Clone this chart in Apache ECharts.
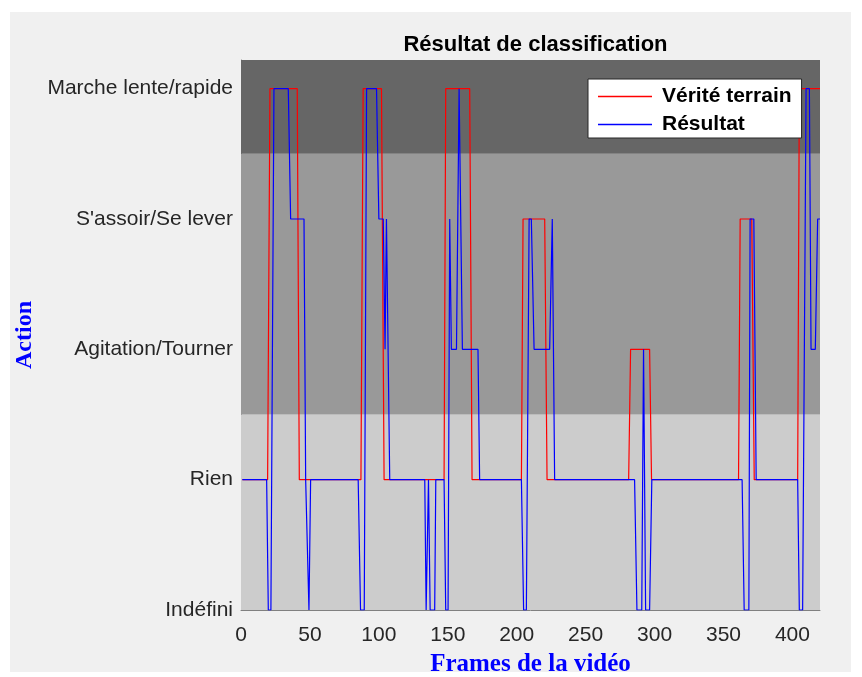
<!DOCTYPE html>
<html>
<head>
<meta charset="utf-8">
<script src="https://cdn.jsdelivr.net/npm/echarts@6/dist/echarts.min.js"></script>
<style>
  html, body { margin: 0; padding: 0; background: #ffffff; }
  #chart { width: 862px; height: 677px; }
</style>
</head>
<body>
<div id="chart"></div>
<script>
// Class labels (y levels 0..4)
var classLabels = ['Indéfini', 'Rien', 'Agitation/Tourner', "S'assoir/Se lever", 'Marche lente/rapide'];

// Ground truth ("Vérité terrain") breakpoints: frame, class index
var truthX = [1, 19.3, 21, 40.8, 42.3, 87, 88.6, 101.9, 103.8, 147.3, 148.5, 165.9, 167.6,
  203.4, 204.6, 220.3, 222, 281.2, 282.6, 296.4, 297.8, 360.9, 362.1, 370.5, 372.3, 403.8, 405, 420];
var truthY = [1, 1, 4, 4, 1, 1, 4, 4, 1, 1, 4, 4, 1,
  1, 3, 3, 1, 1, 2, 2, 1, 1, 3, 3, 1, 1, 4, 4];

// Classifier output ("Résultat") breakpoints: frame, class index
var resultX = [1, 18.6, 19.8, 21.7, 23.9, 34.3, 36, 45.7, 46.9, 48, 49.3, 50.5,
  85, 86.7, 89.4, 91.1, 98.3, 100, 103.2, 104.5, 105.5, 106.3, 107.9,
  133.3, 134.3, 135, 136, 137.2, 140.5, 141.3, 147.3, 148.5, 150.2, 151.4, 152.6, 156.3, 158.2, 159.2, 160.6, 171.9, 173.1,
  203.4, 205, 207, 209, 210.6, 212.6, 223.9, 225.8, 227.5,
  285.5, 287.2, 290.7, 292, 293.5, 296.4, 298,
  363.5, 365, 368.4, 369.3, 372, 373.7,
  403.8, 405, 407.4, 409.9, 412.3, 413.5, 416.6, 418.3, 420];
var resultY = [1, 1, 0, 0, 4, 4, 3, 3, 1, 1, 0, 1,
  1, 0, 0, 4, 4, 3, 3, 2, 3, 3, 1,
  1, 0, 0, 1, 0, 0, 1, 1, 0, 0, 3, 2, 2, 4, 4, 2, 2, 1,
  1, 0, 0, 3, 3, 2, 2, 3, 1,
  1, 0, 0, 2, 0, 0, 1,
  1, 0, 0, 3, 3, 1,
  1, 0, 0, 4, 4, 2, 2, 3, 3];

// Background band limits (class-level ranges)
var bandLimits = [[0, 1.5], [1.5, 3.5], [3.5, 4.22]];
var bandColors = ['#cccccc', '#999999', '#666666'];

var xTicks = [0, 50, 100, 150, 200, 250, 300, 350, 400];

function zip(xs, ys) { return xs.map(function (x, i) { return [x, ys[i]]; }); }

var chart = echarts.init(document.getElementById('chart'), null, { renderer: 'canvas' });
var sansFont = "'Liberation Sans', Arial, Helvetica, sans-serif";
var serifFont = "'Liberation Serif', 'Times New Roman', serif";

chart.setOption({
  backgroundColor: '#ffffff',
  animation: false,
  graphic: [{
    type: 'rect', z: -10, silent: true,
    shape: { x: 10, y: 12, width: 841, height: 660 },
    style: { fill: '#f0f0f0' }
  }],
  title: {
    text: 'Résultat de classification',
    left: 530.5, top: 29, textAlign: 'center',
    textStyle: { fontFamily: sansFont, fontWeight: 'bold', fontSize: 22, color: '#000000' }
  },
  legend: {
    orient: 'vertical',
    left: 588, top: 79,
    backgroundColor: '#ffffff',
    borderColor: '#262626', borderWidth: 1, borderRadius: 0,
    padding: [7, 10, 3, 10],
    icon: 'rect',
    itemWidth: 54, itemHeight: 1.5, itemGap: 7,
    textStyle: { fontFamily: sansFont, fontWeight: 'bold', fontSize: 21, color: '#000000', padding: [0, 0, 0, 5], lineHeight: 21 },
    data: ['Vérité terrain', 'Résultat']
  },
  grid: { left: 241, right: 42, top: 60, bottom: 67, containLabel: false, outerBoundsMode: 'none' },
  xAxis: {
    type: 'value', min: 0, max: 420, interval: 50,
    name: 'Frames de la vidéo', nameLocation: 'middle', nameGap: 42,
    nameTextStyle: { fontFamily: serifFont, fontWeight: 'bold', fontSize: 25, color: '#0000ff' },
    axisLine: { show: true, lineStyle: { color: '#808080', width: 1 } },
    axisTick: { show: false },
    splitLine: { show: false },
    axisLabel: {
      fontFamily: sansFont, fontSize: 21, color: '#262626', margin: 15,
      formatter: function (v) { return xTicks.indexOf(v) >= 0 ? String(v) : ''; }
    }
  },
  yAxis: {
    type: 'value', min: 0, max: 4.22, interval: 1,
    name: 'Action', nameLocation: 'middle', nameGap: 204, nameRotate: 90,
    nameTextStyle: { fontFamily: serifFont, fontWeight: 'bold', fontSize: 24, color: '#0000ff' },
    axisLine: { show: true, lineStyle: { color: '#808080', width: 1 } },
    axisTick: { show: false },
    splitLine: { show: false },
    axisLabel: {
      fontFamily: sansFont, fontSize: 21, color: '#262626', margin: 8,
      formatter: function (v) { return classLabels[Math.round(v)] !== undefined && Math.abs(v - Math.round(v)) < 1e-6 ? classLabels[Math.round(v)] : ''; }
    }
  },
  series: [
    {
      name: 'Vérité terrain', type: 'line', symbol: 'none', z: 3,
      lineStyle: { color: '#ff0000', width: 1.2 }, itemStyle: { color: '#ff0000' },
      data: zip(truthX, truthY),
      markArea: {
        silent: true, z: 1,
        data: bandLimits.map(function (b, i) {
          return [{ yAxis: b[0], itemStyle: { color: bandColors[i] } }, { yAxis: b[1] }];
        })
      }
    },
    {
      name: 'Résultat', type: 'line', symbol: 'none', z: 4,
      lineStyle: { color: '#0000ff', width: 1.2 }, itemStyle: { color: '#0000ff' },
      data: zip(resultX, resultY)
    }
  ]
});
</script>
</body>
</html>
